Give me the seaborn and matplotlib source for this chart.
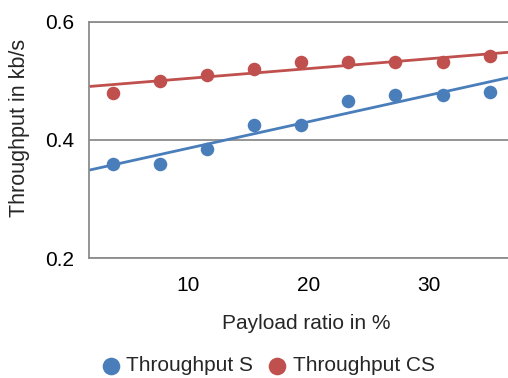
import matplotlib
matplotlib.use('Agg')
import matplotlib.pyplot as plt
import seaborn as sns

# ─── DATA ─────────────────────────────────────────────────────────────────────
payload_ratio = [3.8, 7.7, 11.6, 15.5, 19.4, 23.3, 27.2, 31.2, 35.1]
throughput_s  = [0.359, 0.360, 0.385, 0.425, 0.425, 0.466, 0.475, 0.475, 0.481]
throughput_cs = [0.480, 0.500, 0.510, 0.520, 0.531, 0.531, 0.531, 0.531, 0.541]
series_names  = ['Throughput S', 'Throughput CS']

BLUE  = '#4a7ebb'
RED   = '#c0504d'
GREY  = '#8c8c8c'

# ─── STYLE ────────────────────────────────────────────────────────────────────
sns.set_style('white')
plt.rcParams['font.family'] = ['Liberation Sans', 'DejaVu Sans']

fig = plt.figure(figsize=(5.08, 3.78), dpi=100)
ax = fig.add_axes([0.176, 0.317, 0.824, 0.626])
ax.set_xlim(1.83, 36.6)
ax.set_ylim(0.2, 0.6)

# scatter + linear trend line, line extended to the axis limits
for ys, col, name in zip([throughput_s, throughput_cs], [BLUE, RED], series_names):
    sns.regplot(x=payload_ratio, y=ys, ax=ax, ci=None, truncate=False,
                label=name, color=col,
                scatter_kws={'s': 95, 'alpha': 1, 'linewidths': 0, 'zorder': 3},
                line_kws={'lw': 2.0, 'zorder': 2})

ax.set_xlim(1.83, 36.6)
ax.set_ylim(0.2, 0.6)
ax.set_xticks([10, 20, 30])
ax.set_yticks([0.2, 0.4, 0.6])
ax.set_yticklabels(['0.2', '0.4', '0.6'])

ax.yaxis.grid(True, color=GREY, lw=1.3)
ax.set_axisbelow(True)
for side in ['left', 'bottom', 'top']:
    ax.spines[side].set_color(GREY)
    ax.spines[side].set_linewidth(1.3)
ax.spines['right'].set_visible(False)

ax.tick_params(axis='both', direction='out', colors=GREY, labelcolor='black',
               labelsize=15, length=6, width=1.3)
ax.tick_params(axis='y', pad=5)
ax.tick_params(axis='x', pad=7)

ax.set_xlabel('Payload ratio in %', fontsize=15)
ax.xaxis.set_label_coords(0.5175, -0.235)
ax.set_ylabel('Throughput in kb/s', fontsize=15.5)
ax.yaxis.set_label_coords(-0.142, 0.55)

handles, labels = ax.get_legend_handles_labels()
fig.legend(handles, labels, loc='center', bbox_to_anchor=(0.528, 0.032),
           ncol=2, frameon=False, fontsize=15, handletextpad=0.3,
           handlelength=0.9, columnspacing=0.7, markerscale=1.3,
           borderaxespad=0)

plt.savefig('out.png', dpi=100)
plt.close()
